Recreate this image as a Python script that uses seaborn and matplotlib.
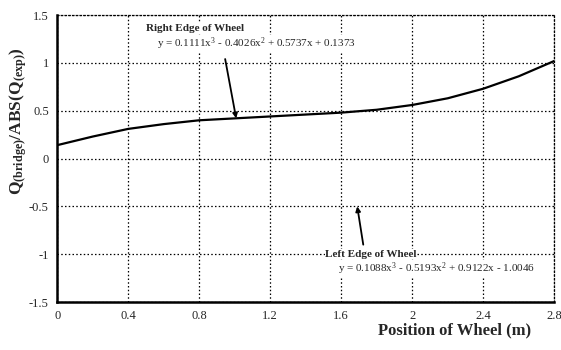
import matplotlib
matplotlib.use("Agg")
import matplotlib.pyplot as plt
import seaborn as sns
import pandas as pd

position = [0.0, 0.2, 0.4, 0.6, 0.8, 1.0, 1.2, 1.4, 1.6, 1.8, 2.0, 2.2, 2.4, 2.6, 2.8]
q_ratio = [0.14, 0.23, 0.31, 0.36, 0.40, 0.42, 0.44, 0.46, 0.48, 0.51, 0.56, 0.63, 0.73, 0.86, 1.02]
x_ticks = [0, 0.4, 0.8, 1.2, 1.6, 2, 2.4, 2.8]
x_tick_labels = ["0", "0.4", "0.8", "1.2", "1.6", "2", "2.4", "2.8"]
y_ticks = [-1.5, -1, -0.5, 0, 0.5, 1, 1.5]
y_tick_labels = ["-1.5", "-1", "-0.5", "0", "0.5", "1", "1.5"]

df = pd.DataFrame({"position": position, "q": q_ratio})

sns.set_theme(style="white")
plt.rcParams["font.family"] = ["Liberation Serif", "DejaVu Serif"]
plt.rcParams["mathtext.fontset"] = "custom"
plt.rcParams["mathtext.rm"] = "Liberation Serif"
plt.rcParams["mathtext.it"] = "Liberation Serif:italic"
plt.rcParams["mathtext.bf"] = "Liberation Serif:bold"

fig = plt.figure(figsize=(5.61, 3.5), dpi=100)
ax = fig.add_axes([0.102, 0.137, 0.886, 0.820])

sns.lineplot(data=df, x="position", y="q", ax=ax, color="black", linewidth=1.6)

ax.set_xlim(0, 2.8)
ax.set_ylim(-1.5, 1.5)
ax.set_xticks(x_ticks)
ax.set_xticklabels(x_tick_labels, fontsize=9)
ax.set_yticks(y_ticks)
ax.set_yticklabels(y_tick_labels, fontsize=9)
ax.grid(True, color="black", linestyle=(0, (1.2, 1.8)), linewidth=0.9)
ax.tick_params(axis="both", direction="in", length=3, width=1, color="black", pad=6)

for s in ["left", "bottom"]:
    ax.spines[s].set_color("black")
    ax.spines[s].set_linewidth(1.8)
for s in ["top", "right"]:
    ax.spines[s].set_color("black")
    ax.spines[s].set_linewidth(0.9)
    ax.spines[s].set_linestyle((0, (1.2, 1.8)))

ax.set_xlabel("Position of Wheel (m)", fontsize=12, fontweight="bold")
ax.xaxis.set_label_coords(0.80, -0.07)
ax.set_ylabel(r"$\mathbf{Q_{(bridge)}/ABS(Q_{(exp)})}$", fontsize=12.5)
ax.yaxis.set_label_coords(-0.056, 0.63)

box = dict(facecolor="white", edgecolor="none", pad=0.5)
ax.text(0.50, 1.36, "Right Edge of Wheel", fontsize=8, fontweight="bold",
        ha="left", va="center", bbox=box)
ax.text(0.56, 1.20, r"y = 0.1111x$^3$ - 0.4026x$^2$ + 0.5737x + 0.1373", fontsize=8,
        ha="left", va="center", bbox=box)
ax.annotate("", xy=(1.008, 0.42), xytext=(0.946, 1.04),
            arrowprops=dict(arrowstyle="-|>", color="black", lw=1.3, mutation_scale=7,
                            shrinkA=0, shrinkB=0))

ax.text(1.51, -1.0, "Left Edge of Wheel", fontsize=8, fontweight="bold",
        ha="left", va="center", bbox=box)
ax.text(1.58, -1.15, r"y = 0.1088x$^3$ - 0.5193x$^2$ + 0.9122x - 1.0046", fontsize=8,
        ha="left", va="center", bbox=box)
ax.annotate("", xy=(1.69, -0.5), xytext=(1.724, -0.90),
            arrowprops=dict(arrowstyle="-|>", color="black", lw=1.3, mutation_scale=7,
                            shrinkA=0, shrinkB=0))

fig.savefig("out.png", dpi=100)
